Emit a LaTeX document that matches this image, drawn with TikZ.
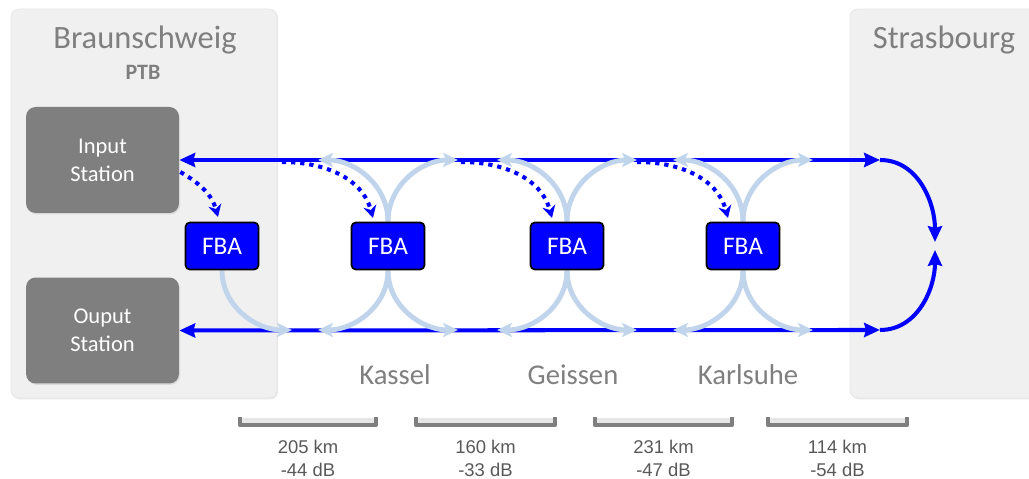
\documentclass[tikz,border=0pt]{standalone}
\usepackage{fontspec}
\setmainfont{Carlito}
\newfontfamily\arialfont{Liberation Sans}
\usepackage{xcolor}
\usepackage{tikz}
\usetikzlibrary{calc,arrows.meta,shadows}

\definecolor{panelgray}{HTML}{F0F0F0}
\definecolor{boxgray}{HTML}{7F7F7F}
\definecolor{textgray}{HTML}{7F7F7F}
\definecolor{labelgray}{HTML}{595959}
\definecolor{fiberblue}{HTML}{0000FF}
\definecolor{lightfiber}{HTML}{C0D4EC}

\pgfdeclarelayer{bg}
\pgfdeclarelayer{mid}
\pgfsetlayers{bg,mid,main}

\begin{document}
\begin{tikzpicture}[x=0.02cm, y=0.02cm,
  site/.style={fill=panelgray, draw=black!10, line width=0.4pt, rounded corners=4.5pt,
    drop shadow={opacity=0.18, shadow xshift=0.6pt, shadow yshift=-0.8pt}},
  title/.style={text=textgray, font=\fontsize{18.5}{22}\selectfont},
  station/.style={fill=boxgray, rounded corners=5.5pt, minimum width=3.06cm, minimum height=2.12cm,
    text=white, align=center, font=\fontsize{12.8}{16}\selectfont,
    drop shadow={opacity=0.2, shadow xshift=0.6pt, shadow yshift=-0.8pt}},
  amp/.style={draw=black, line width=1pt, fill=fiberblue, rounded corners=2.5pt,
    minimum width=1.46cm, minimum height=0.94cm, text=white, font=\fontsize{14.4}{17}\selectfont},
  fiber/.style={fiberblue, line width=2.3pt},
  fibertip/.style={-{Stealth[length=9pt,width=8pt,inset=1pt]}},
  echo/.style={lightfiber, line width=2.8pt, -{Stealth[length=8.5pt,width=8pt,inset=2pt]}},
  sync/.style={fiberblue, line width=2.3pt, dash pattern=on 2.4pt off 2.8pt,
    -{Stealth[length=7pt,width=7.5pt]}},
  city/.style={text=textgray, font=\fontsize{16.3}{19}\selectfont},
  span/.style={boxgray, line width=2.4pt, line join=round,
    drop shadow={opacity=0.2, shadow xshift=0.5pt, shadow yshift=-0.8pt}},
  spanlabel/.style={text=labelgray, align=center, font=\arialfont\fontsize{10.5}{13}\selectfont}]
\useasboundingbox (0,0) rectangle (1029,479);

% the two end sites
\begin{pgfonlayer}{bg}
\path[site] (11,81) rectangle (277,470);
\path[site] (850,81) rectangle (1045,470);
\end{pgfonlayer}
\node[title] (brs) at (145,439) {Braunschweig};
\node[text=textgray, font=\fontsize{12.5}{15}\selectfont\bfseries] (ptb) at (143,407) {PTB};
\node[title] (sxb) at (944,439) {Strasbourg};

\node[station] (in) at (102.5,319) {Input\\Station};
\node[station] (out) at (102.5,148.5) {Ouput\\Station};

% amplifiers
\foreach \n/\x in {1/222,2/388,3/567,4/743}
  \node[amp] (fba\n) at (\x,233) {FBA};

\coordinate (topend) at (880,319);
\coordinate (botend) at (880,149);
\coordinate (turnA) at (935,237);
\coordinate (turnB) at (935,229);

% fibre link
\begin{pgfonlayer}{bg}
\draw[fiber, {Stealth[length=9pt,width=8pt,inset=1pt]}-{Stealth[length=9pt,width=8pt,inset=1pt]}] (in.east) -- (topend);
\draw[fiber, {Stealth[length=9pt,width=8pt,inset=1pt]}-{Stealth[length=9pt,width=8pt,inset=1pt]}] (out.east) -- (botend);
\draw[fiber, fibertip] (topend) to[out=0,in=90] (turnA);
\draw[fiber, fibertip] (botend) to[out=0,in=-90] (turnB);
\end{pgfonlayer}

% light returned by each FBA
\coordinate (br1) at ($(fba1)+(70,-84)$);
\begin{pgfonlayer}{mid}
\draw[echo] (fba1.south) to[out=-90,in=180] (br1);
\foreach \n in {2,3,4} {
  \coordinate (tl\n) at ($(fba\n)+(-70,86)$);
  \coordinate (tr\n) at ($(fba\n)+(70,86)$);
  \coordinate (bl\n) at ($(fba\n)+(-70,-84)$);
  \coordinate (br\n) at ($(fba\n)+(70,-84)$);
  \draw[echo] (fba\n.north) to[out=90,in=0] (tl\n);
  \draw[echo] (fba\n.north) to[out=90,in=180] (tr\n);
  \draw[echo] (fba\n.south) to[out=-90,in=0] (bl\n);
  \draw[echo] (fba\n.south) to[out=-90,in=180] (br\n);
}
\end{pgfonlayer}

% control of the FBAs
\coordinate (s1) at ($(in.east)+(1,-12)$);
\coordinate (e1) at ($(fba1)+(-4,29)$);
\draw[sync] (s1) to[out=-30,in=105] (e1);
\foreach \n in {2,3,4} {
  \coordinate (s\n) at ($(fba\n)+(-106,84)$);
  \coordinate (e\n) at ($(fba\n)+(-15,28)$);
  \draw[sync] (s\n) to[out=0,in=105] (e\n);
}

\node[city] (kassel) at (395,104) {Kassel};
\node[city] (geissen) at (573,104) {Geissen};
\node[city] (karlsuhe) at (748,104) {Karlsuhe};

% spans
\foreach \a/\b/\km/\db in {240/376/205/44,416/555/160/33,595/732/231/47,768/907/114/54} {
  \draw[span] (\a,62) -- (\a,54) -- (\b,54) -- (\b,62);
  \node[spanlabel] (span\km) at ({(\a+\b)/2},20.5) {\km~km\\-\db~dB};
}
\end{tikzpicture}
\end{document}
